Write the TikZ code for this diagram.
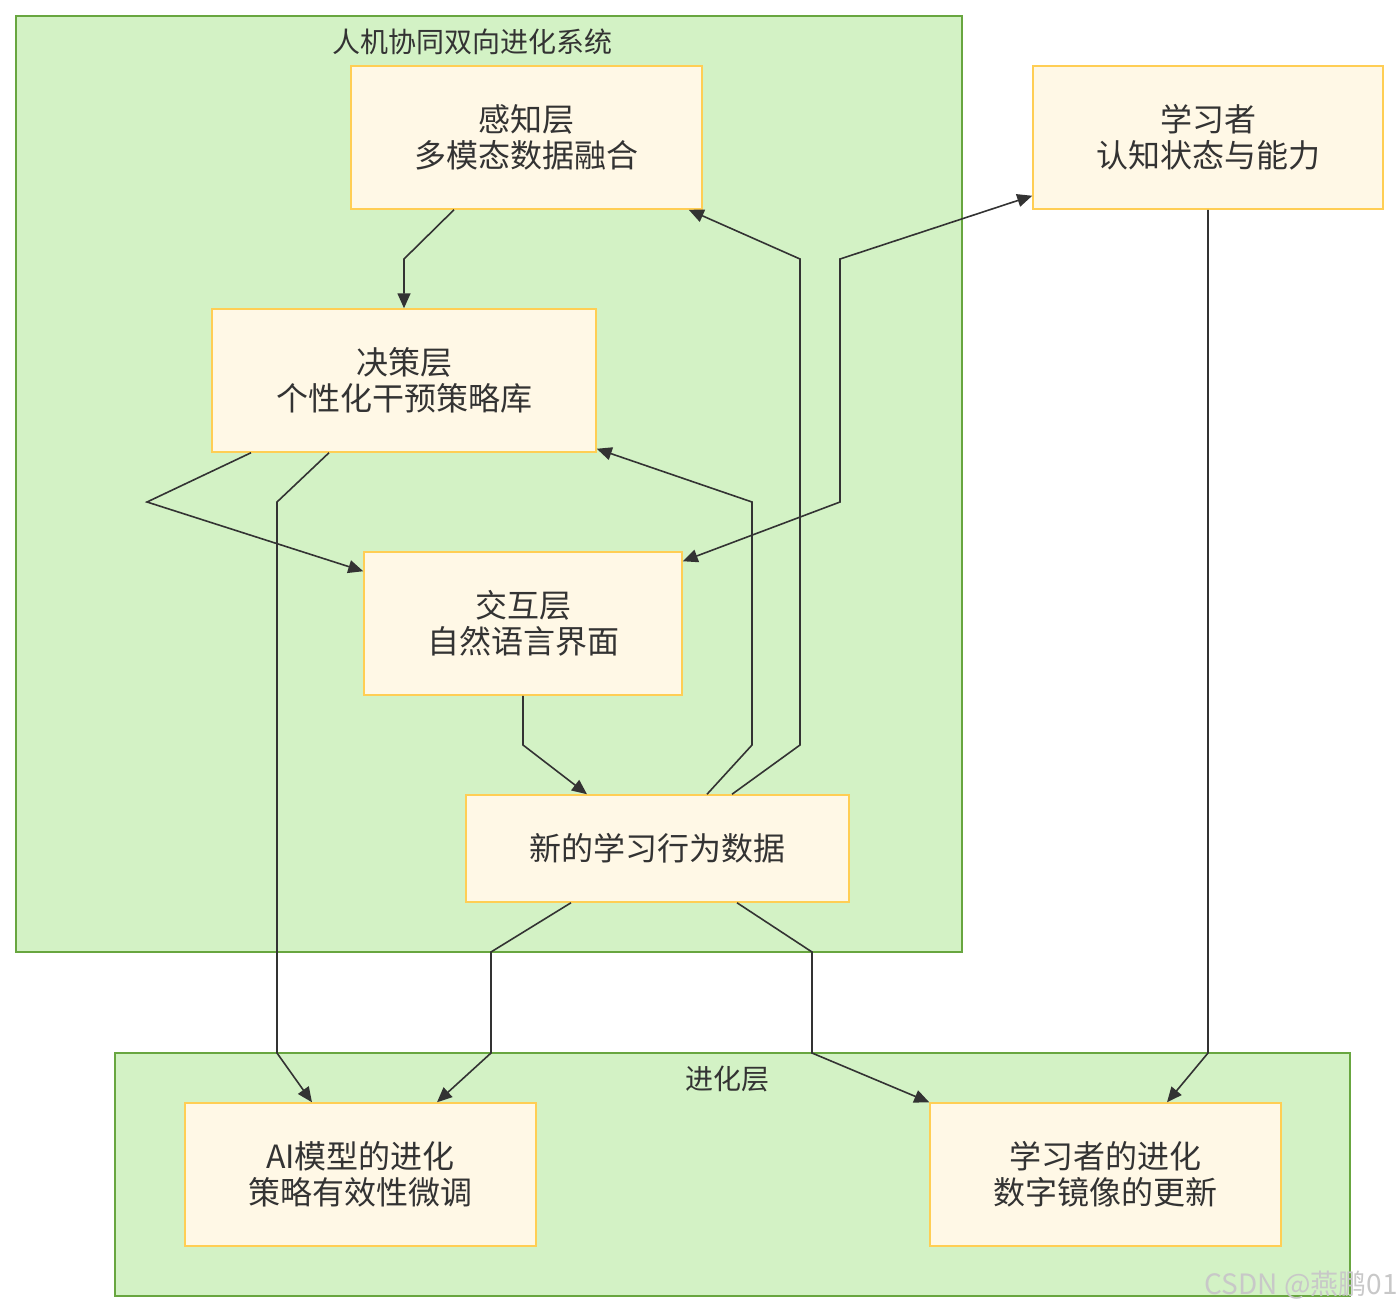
\documentclass[tikz,border=0pt]{standalone}
\usepackage{fontspec}
\setmainfont{Noto Sans CJK SC}
\usepackage{xcolor}
\usepackage{tikz}
\usetikzlibrary{arrows.meta}
\definecolor{groupfill}{RGB}{211, 242, 197}
\definecolor{groupline}{RGB}{104, 166, 64}
\definecolor{boxfill}{RGB}{255, 248, 230}
\definecolor{boxline}{RGB}{255, 206, 84}
\definecolor{inkgray}{RGB}{51, 51, 51}
\definecolor{markgray}{RGB}{200, 200, 200}

\begin{document}
\begin{tikzpicture}[x=1pt, y=-1pt,
        group/.style={draw=groupline, fill=groupfill, line width=1.6pt},
        grouptitle/.style={text=inkgray, font=\fontsize{28}{30}\selectfont},
        layerbox/.style={draw=boxline, fill=boxfill, line width=1.5pt, text=inkgray,
            align=center, font=\fontsize{32}{36}\selectfont, inner sep=0pt},
        flow/.style={draw=inkgray, line width=1.6pt, -{Triangle[length=15pt, width=13pt]}},
        twoway/.style={flow, {Triangle[length=15pt, width=13pt]}-{Triangle[length=15pt, width=13pt]}}]
        \useasboundingbox (0,0) rectangle (1400,1312);

        % 子图
        \node[group, minimum width=946, minimum height=936, inner sep=0pt] (sysBox) at (489,484) {};
        \node[grouptitle] (sysTitle) at (472,42) {人机协同双向进化系统};
        \node[group, minimum width=1235, minimum height=243, inner sep=0pt] (evoBox) at (732.5,1174.5) {};
        \node[grouptitle] (evoTitle) at (727,1079) {进化层};

        % 节点
        \node[layerbox, minimum width=351, minimum height=143] (perc) at (526.5,137.5) {感知层\\多模态数据融合};
        \node[layerbox, minimum width=350, minimum height=143] (learner) at (1208,137.5) {学习者\\认知状态与能力};
        \node[layerbox, minimum width=384, minimum height=143] (dec) at (404,380.5) {决策层\\个性化干预策略库};
        \node[layerbox, minimum width=318, minimum height=143] (inter) at (523,623.5) {交互层\\自然语言界面};
        \node[layerbox, minimum width=383, minimum height=107] (data) at (657.5,848.5) {新的学习行为数据};
        \node[layerbox, minimum width=351, minimum height=143] (aiEvo) at (360.5,1174.5) {AI模型的进化\\策略有效性微调};
        \node[layerbox, minimum width=351, minimum height=143] (lrnEvo) at (1105.5,1174.5) {学习者的进化\\数字镜像的更新};

        % 连线
        \draw[flow] ([xshift=-72.5pt]perc.south) -- (404,259) -- (dec.north);
        \draw[flow] ([xshift=-153pt]dec.south) -- (147,502) -- ([yshift=-20pt]inter.north west);
        \draw[flow] ([xshift=-75pt]dec.south) -- (277,502) -- (277,1053) -- ([xshift=-48.5pt]aiEvo.north);
        \draw[flow] (inter.south) -- (523,745) -- ([xshift=-70.5pt]data.north);
        \draw[flow] ([xshift=49.5pt]data.north) -- (752,745) -- (752,502) -- ([yshift=4pt]dec.south east);
        \draw[flow] ([xshift=74.5pt]data.north) -- (800,745) -- (800,259) -- ([xshift=-14pt]perc.south east);
        \draw[twoway] ([yshift=14pt]learner.south west) -- (840,259) -- (840,502) -- ([yshift=-10pt]inter.north east);
        \draw[flow] (learner.south) -- (1208,1053) -- ([xshift=61.5pt]lrnEvo.north);
        \draw[flow] ([xshift=-86.5pt]data.south) -- (491,952) -- (491,1053) -- ([xshift=76.5pt]aiEvo.north);
        \draw[flow] ([xshift=79.5pt]data.south) -- (812,952) -- (812,1053) -- (lrnEvo.north west);

        % 水印
        \node[text=markgray, font=\fontsize{28}{28}\selectfont, inner sep=0pt] (mark) at (1301,1285) {CSDN @燕鹏01};
    \end{tikzpicture}
\end{document}
